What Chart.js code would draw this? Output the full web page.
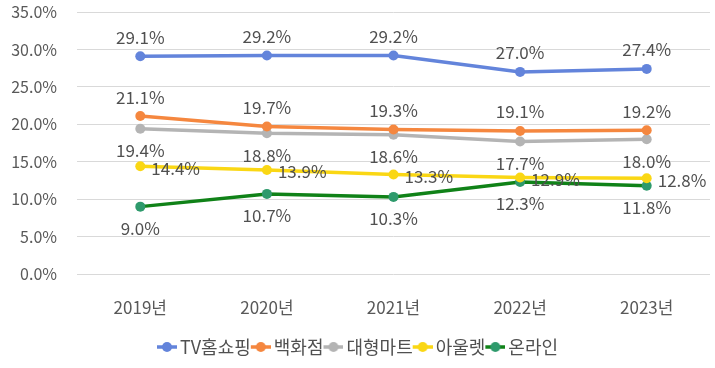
<!DOCTYPE html>
<html><head><meta charset="utf-8">
<script src="https://cdn.jsdelivr.net/npm/chart.js@4"></script>
<style>html,body{margin:0;padding:0;background:#fff}#wrap{width:715px;height:368px}</style>
</head><body><div id="wrap"><canvas id="c" width="715" height="368"></canvas></div>
<script>
const categories = ['2019년','2020년','2021년','2022년','2023년'];
const tvHomeShopping = [29.1, 29.2, 29.2, 27.0, 27.4];
const departmentStore = [21.1, 19.7, 19.3, 19.1, 19.2];
const hypermarket = [19.4, 18.8, 18.6, 17.7, 18.0];
const outlet = [14.4, 13.9, 13.3, 12.9, 12.8];
const online = [9.0, 10.7, 10.3, 12.3, 11.8];
const seriesNames = ['TV홈쇼핑','백화점','대형마트','아울렛','온라인'];

const FONT = "'Noto Sans CJK KR', 'Noto Sans', sans-serif";
const lineColors = ['#6384DB','#F5873F','#B4B4B4','#FAD714','#108218'];
const pointColors = ['#6384DB','#F5873F','#B4B4B4','#FAD714','#2E9A6C'];
const labelPos = ['top','top','bottom','right','bottom'];
const allData = [tvHomeShopping, departmentStore, hypermarket, outlet, online];

function legendIcon(lc, pc){
  // image is 26 wide, centered on box centre; visible icon occupies right 20px
  const cv = document.createElement('canvas');
  cv.width = 26; cv.height = 12;
  const g = cv.getContext('2d');
  g.strokeStyle = lc; g.lineWidth = 3.5;
  g.beginPath(); g.moveTo(6,6); g.lineTo(26,6); g.stroke();
  g.fillStyle = pc; g.beginPath(); g.arc(16,6,5,0,Math.PI*2); g.fill();
  return cv;
}
const icons = lineColors.map((c,i)=>legendIcon(c, pointColors[i]));

const dataLabels = {
  id:'dataLabels',
  afterDatasetsDraw(chart){
    const ctx = chart.ctx;
    ctx.save();
    ctx.font = "17px " + FONT;
    ctx.fillStyle = '#505050';
    chart.data.datasets.forEach((ds, di)=>{
      const meta = chart.getDatasetMeta(di);
      meta.data.forEach((pt, i)=>{
        const txt = ds.data[i].toFixed(1) + '%';
        const pos = labelPos[di];
        if (pos==='top'){ ctx.textAlign='center'; ctx.textBaseline='middle'; ctx.fillText(txt, pt.x, pt.y-19); }
        else if (pos==='bottom'){ ctx.textAlign='center'; ctx.textBaseline='middle'; ctx.fillText(txt, pt.x, pt.y+22); }
        else { ctx.textAlign='left'; ctx.textBaseline='middle'; ctx.fillText(txt, pt.x+11, pt.y+2); }
      });
    });
    ctx.restore();
  }
};

new Chart(document.getElementById('c'), {
  type:'line',
  data:{
    labels: categories,
    datasets: allData.map((d,i)=>({
      label: seriesNames[i],
      data: d,
      borderColor: lineColors[i],
      backgroundColor: pointColors[i],
      pointBackgroundColor: pointColors[i],
      pointBorderColor: pointColors[i],
      borderWidth: 3.5,
      pointRadius: 5,
      pointBorderWidth: 0,
      tension: 0,
      fill: false
    }))
  },
  options:{
    responsive:false,
    animation:false,
    layout:{padding:{top:0,right:0,left:0,bottom:2}},
    plugins:{
      tooltip:{enabled:false},
      legend:{
        position:'bottom',
        align:'center',
        labels:{
          usePointStyle:true,
          pointStyleWidth:14,
          padding:0,
          color:'#505050',
          font:{family:FONT, size:18},
          generateLabels(chart){
            return chart.data.datasets.map((ds,i)=>({
              text: ds.label, pointStyle: icons[i], datasetIndex:i,
              fillStyle: pointColors[i], strokeStyle: pointColors[i], lineWidth:0, hidden:false,
              fontColor:'#505050'
            }));
          }
        }
      }
    },
    scales:{
      x:{
        offset:true,
        grid:{display:false, drawTicks:false},
        border:{display:false},
        ticks:{color:'#595959', font:{family:FONT,size:17}, padding:23},
        afterFit(s){ s.height = 64; }
      },
      y:{
        min:0, max:35,
        grid:{color:'#D9D9D9', lineWidth:1, drawTicks:false},
        border:{display:false},
        ticks:{stepSize:5, color:'#595959', font:{family:FONT,size:16}, padding:20,
          callback:v=>v.toFixed(1)+'%'},
        afterFit(s){ s.width = 77; s.paddingTop = 12; s.paddingBottom = 0; }
      }
    }
  },
  plugins:[dataLabels]
});
</script></body></html>
